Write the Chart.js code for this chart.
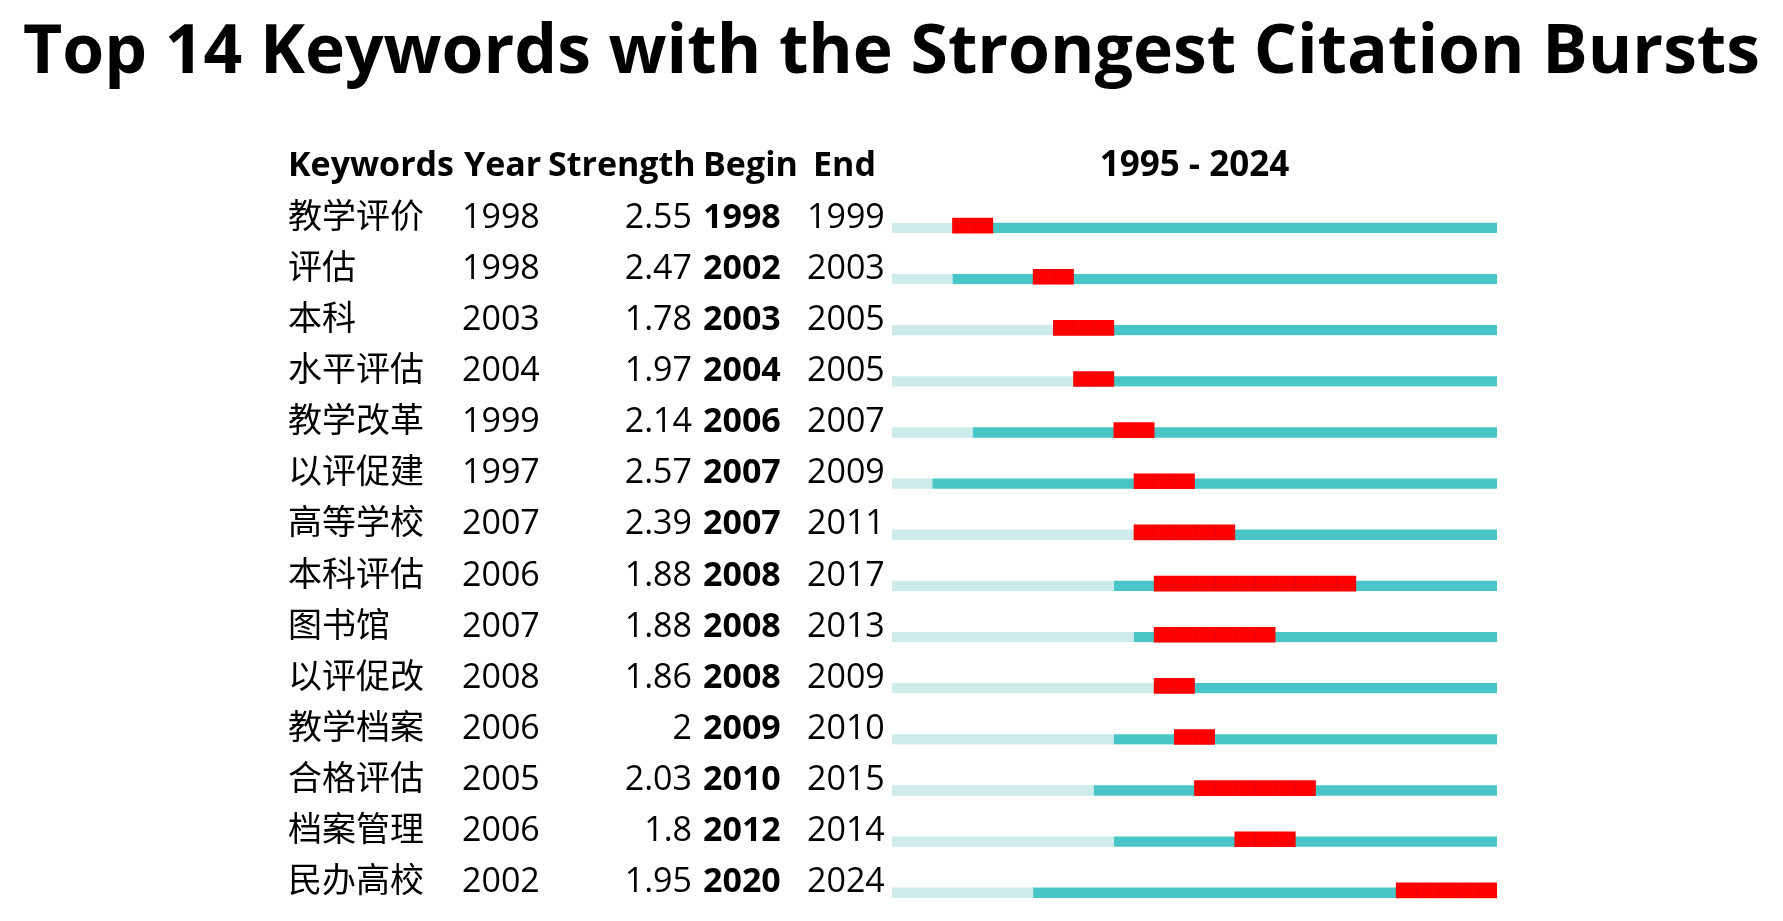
<!DOCTYPE html>
<html>
<head>
<meta charset="utf-8">
<title>Citation Bursts</title>
<script src="https://cdn.jsdelivr.net/npm/chart.js@4.4.0/dist/chart.umd.min.js"></script>
<style>
    body { margin: 0; background: #fff; }
    #myChart { display: block; }
</style>
</head>
<body>
<canvas id="myChart" width="1783" height="921"></canvas>
<script>
'use strict';
// data
const keywords = ['教学评价', '评估', '本科', '水平评估', '教学改革', '以评促建', '高等学校', '本科评估', '图书馆', '以评促改', '教学档案', '合格评估', '档案管理', '民办高校'];
const years = [1998, 1998, 2003, 2004, 1999, 1997, 2007, 2006, 2007, 2008, 2006, 2005, 2006, 2002];
const strengths = [2.55, 2.47, 1.78, 1.97, 2.14, 2.57, 2.39, 1.88, 1.88, 1.86, 2, 2.03, 1.8, 1.95];
const begins = [1998, 2002, 2003, 2004, 2006, 2007, 2007, 2008, 2008, 2008, 2009, 2010, 2012, 2020];
const ends = [1999, 2003, 2005, 2005, 2007, 2009, 2011, 2017, 2013, 2009, 2010, 2015, 2014, 2024];
const firstYear = 1995;
const lastYear = 2024;
const titleText = 'Top 14 Keywords with the Strongest Citation Bursts';

const FONT = '"Open Sans", "Noto Sans CJK SC", sans-serif';

// title + table on the left, drawn with the y scale positions
const tablePlugin = {
    id: 'burstTable',
    afterDatasetsDraw(chart) {
        // faint year lines inside the red bursts
        const ctx = chart.ctx;
        const xScale = chart.scales.x;
        const meta = chart.getDatasetMeta(0);
        ctx.save();
        ctx.strokeStyle = 'rgba(190,0,40,0.35)';
        ctx.lineWidth = 1;
        meta.data.forEach((bar, i) => {
            for (let yr = begins[i] + 1; yr <= ends[i]; yr++) {
                const px = Math.round(xScale.getPixelForValue(yr)) + 0.5;
                ctx.beginPath();
                ctx.moveTo(px, bar.y - bar.height / 2);
                ctx.lineTo(px, bar.y + bar.height / 2);
                ctx.stroke();
            }
        });
        ctx.restore();
    },
    afterDraw(chart) {
        const ctx = chart.ctx;
        const yScale = chart.scales.y;
        const area = chart.chartArea;
        const step = yScale.getPixelForValue(1) - yScale.getPixelForValue(0);
        ctx.save();
        ctx.fillStyle = '#000';
        ctx.textBaseline = 'alphabetic';

        // title, sized to the width it has in the picture
        ctx.font = 'bold 64px ' + FONT;
        const size = 64 * 1738 / ctx.measureText(titleText).width;
        ctx.font = 'bold ' + size.toFixed(1) + 'px ' + FONT;
        ctx.textAlign = 'center';
        ctx.fillText(titleText, chart.width / 2, 73);

        // header
        const headY = yScale.getPixelForValue(0) - step + 2;
        ctx.font = 'bold 34px ' + FONT;
        ctx.textAlign = 'left';
        ctx.fillText('Keywords', 288, headY);
        ctx.fillText('Year', 464, headY);
        ctx.fillText('Strength', 548, headY);
        ctx.fillText('Begin', 703, headY);
        ctx.fillText('End', 813, headY);
        ctx.textAlign = 'center';
        ctx.font = 'bold 35px ' + FONT;
        ctx.fillText(firstYear + ' - ' + lastYear, (area.left + area.right) / 2, headY);

        // rows
        keywords.forEach((kw, i) => {
            const y = yScale.getPixelForValue(i) + 2;
            ctx.font = '34px ' + FONT;
            ctx.textAlign = 'left';
            ctx.fillText(kw, 288, y);
            ctx.fillText(String(years[i]), 462, y);
            ctx.textAlign = 'right';
            ctx.fillText(String(strengths[i]), 692, y);
            ctx.textAlign = 'left';
            ctx.font = 'bold 34px ' + FONT;
            ctx.fillText(String(begins[i]), 703, y);
            ctx.font = '34px ' + FONT;
            ctx.fillText(String(ends[i]), 807, y);
        });
        ctx.restore();
    }
};

const ctx = document.getElementById('myChart');

// thin bars sit on the bottom edge of the red ones
const thinBar = {
    barThickness: 15,
    borderWidth: { top: 5, right: 0, bottom: 0, left: 0 },
    borderColor: 'rgba(0,0,0,0)',
    borderSkipped: false,
    grouped: false
};

const myChart = new Chart(ctx.getContext('2d'), {
    type: 'bar',
    data: {
        labels: keywords,
        datasets: [{
            label: 'burst',
            data: begins.map((b, i) => [b, ends[i] + 1]),
            backgroundColor: '#ff0000',
            barThickness: 15,
            borderWidth: 0,
            grouped: false
        }, Object.assign({
            label: 'active',
            data: years.map(y => [y, lastYear + 1]),
            backgroundColor: '#48c6c7'
        }, thinBar), Object.assign({
            label: 'before',
            data: years.map(y => [firstYear, y]),
            backgroundColor: '#cdebeb'
        }, thinBar)]
    },
    options: {
        responsive: false,
        animation: false,
        indexAxis: 'y',
        layout: {
            padding: { left: 892, right: 286, top: 200, bottom: 5 }
        },
        plugins: {
            legend: { display: false },
            tooltip: { enabled: false },
            title: { display: false }
        },
        scales: {
            x: {
                type: 'linear',
                min: firstYear,
                max: lastYear + 1,
                display: false
            },
            y: {
                display: false
            }
        }
    },
    plugins: [tablePlugin]
});
</script>
</body>
</html>
